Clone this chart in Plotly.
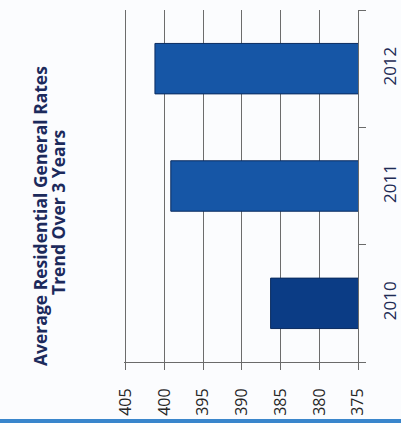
import plotly.graph_objects as go

# Average residential general rates by year
years = ["2010", "2011", "2012"]
rates = [386.3, 399.2, 401.25]
bar_colors = ["#0b3c85", "#1656a6", "#1656a6"]

value_ticks = [405, 400, 395, 390, 385, 380, 375]

title_lines = ["Average Residential General Rates", "Trend Over 3 Years"]

W, H = 401, 423
L, R, T, B = 124, 43, 10, 61
plot_h = H - T - B
plot_w = W - L - R

fig = go.Figure(
    go.Bar(
        y=years,
        x=rates,
        orientation="h",
        width=0.43,
        marker=dict(color=bar_colors, line=dict(color="#0b2c60", width=1)),
        hoverinfo="x+y",
    )
)

fig.update_layout(
    width=W,
    height=H,
    margin=dict(l=L, r=R, t=T, b=B, pad=0),
    paper_bgcolor="#fbfcfe",
    plot_bgcolor="#fbfcfe",
    showlegend=False,
    xaxis=dict(
        # a sliver past 405 keeps its gridline inside the plot area
        range=[405.25, 375],
        tickvals=value_ticks,
        ticktext=[str(v) for v in value_ticks],
        tickangle=-90,
        tickfont=dict(family="Open Sans, Liberation Sans, sans-serif", size=16, color="#262626"),
        showgrid=True,
        gridcolor="#6c6c6c",
        gridwidth=1,
        showline=True,
        linecolor="#6a6a6a",
        linewidth=1,
        ticks="outside",
        ticklen=7,
        tickcolor="#6a6a6a",
        ticklabelstandoff=12,
        zeroline=False,
        automargin=False,
        fixedrange=True,
    ),
    yaxis=dict(
        side="right",
        categoryorder="array",
        categoryarray=years,
        range=[-0.5, 2.5],
        tickangle=-90,
        tickfont=dict(family="Open Sans, Liberation Sans, sans-serif", size=17, color="#1e2b55"),
        showgrid=False,
        showline=True,
        linecolor="#6a6a6a",
        linewidth=1,
        ticks="outside",
        tickson="boundaries",
        ticklen=7,
        tickcolor="#6a6a6a",
        ticklabelstandoff=17,
        zeroline=False,
        automargin=False,
        fixedrange=True,
    ),
)

# Rotated two-line title on the left, one annotation per line
title_font = dict(family="Liberation Sans Narrow, Open Sans, sans-serif", size=17.5, color="#1c2a5c")
for line_text, px_x, px_y in zip(title_lines, [40, 58], [216, 212]):
    fig.add_annotation(
        text="<b>" + line_text + "</b>",
        textangle=-90,
        xref="paper",
        yref="paper",
        x=(px_x - L) / plot_w,
        y=(H - B - px_y) / plot_h,
        xanchor="center",
        yanchor="middle",
        showarrow=False,
        font=title_font,
    )

# Blue band along the bottom edge
fig.add_shape(
    type="rect",
    xref="paper",
    yref="paper",
    x0=-L / plot_w - 0.05,
    x1=1 + R / plot_w + 0.05,
    y0=-(419 - (H - B)) / plot_h,
    y1=-(H + 5 - (H - B)) / plot_h,
    fillcolor="#3a86cc",
    line=dict(width=0),
    layer="above",
)

fig.write_html("out.html")
